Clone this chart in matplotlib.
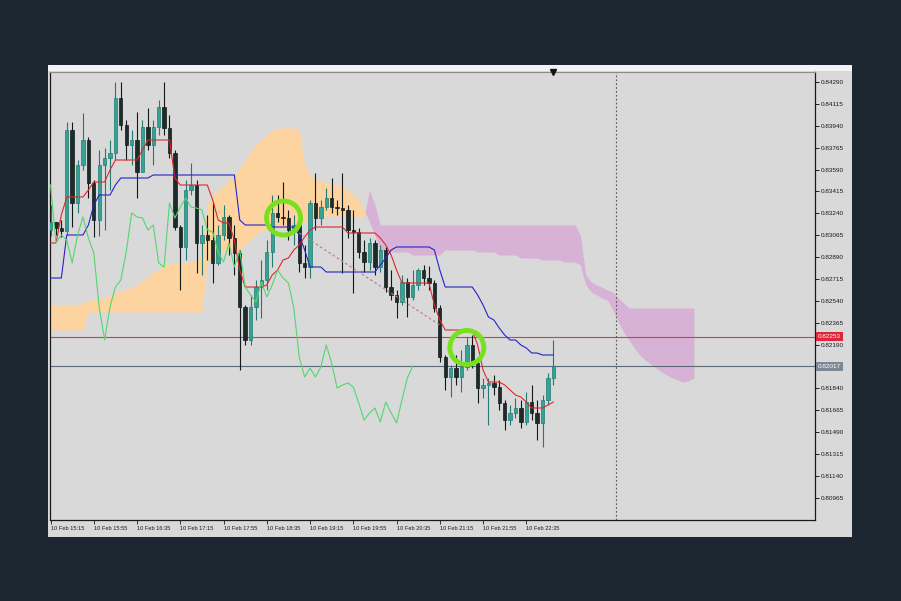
import numpy as np
import matplotlib
matplotlib.use("Agg")
import matplotlib.pyplot as plt
from matplotlib.patches import Rectangle
import matplotlib.transforms as mtrans

# ---- data (5 min bars, 10 Feb 15:15 ...) ----
first_open = 0.83106
closes = [0.83170, 0.83122, 0.83098, 0.83906, 0.83322, 0.83626, 0.83826, 0.83482, 0.83186, 0.83626,
          0.83682, 0.83722, 0.84162, 0.83946, 0.83786, 0.83826, 0.83570, 0.83930, 0.83786, 0.83930,
          0.84090, 0.83922, 0.83722, 0.83130, 0.82970, 0.83426, 0.83466, 0.83002, 0.83066, 0.83026,
          0.82842, 0.83066, 0.83210, 0.83042, 0.82922, 0.82490, 0.82226, 0.82490, 0.82650, 0.82706,
          0.82930, 0.83242, 0.83210, 0.83202, 0.83106, 0.83146, 0.82842, 0.82810, 0.83322, 0.83202,
          0.83290, 0.83362, 0.83290, 0.83282, 0.83266, 0.83106, 0.83090, 0.82930, 0.82850, 0.83002,
          0.82810, 0.82946, 0.82650, 0.82586, 0.82530, 0.82690, 0.82570, 0.82666, 0.82786, 0.82722,
          0.82682, 0.82482, 0.82090, 0.81930, 0.82002, 0.81930, 0.82010, 0.82186, 0.82042, 0.81842,
          0.81866, 0.81882, 0.81850, 0.81722, 0.81586, 0.81642, 0.81682, 0.81570, 0.81730, 0.81642,
          0.81562, 0.81746, 0.81922, 0.82017]
highs = [0.83306, 0.83170, 0.83186, 0.83970, 0.83970, 0.83666, 0.84042, 0.83850, 0.83506, 0.83746,
         0.83762, 0.83826, 0.84290, 0.84290, 0.83986, 0.83906, 0.84050, 0.83986, 0.84082, 0.83986,
         0.84146, 0.84290, 0.84026, 0.83746, 0.83146, 0.83506, 0.83642, 0.83506, 0.83146, 0.83226,
         0.83330, 0.83146, 0.83306, 0.83226, 0.83146, 0.82946, 0.82506, 0.82586, 0.82706, 0.82866,
         0.83026, 0.83386, 0.83386, 0.83490, 0.83266, 0.83226, 0.83106, 0.82986, 0.83346, 0.83562,
         0.83346, 0.83442, 0.83522, 0.83346, 0.83562, 0.83306, 0.83266, 0.83122, 0.83026, 0.83042,
         0.83026, 0.82986, 0.82970, 0.82786, 0.82626, 0.82746, 0.82722, 0.82786, 0.82802, 0.82826,
         0.82818, 0.82706, 0.82506, 0.82106, 0.82026, 0.82106, 0.82146, 0.82250, 0.82266, 0.82082,
         0.81922, 0.81922, 0.81946, 0.81906, 0.81746, 0.81706, 0.81762, 0.81746, 0.81810, 0.81866,
         0.81746, 0.81786, 0.81962, 0.82226]
lows = [0.83058, 0.83066, 0.83050, 0.83066, 0.83130, 0.83242, 0.83586, 0.83362, 0.83050, 0.83058,
        0.83106, 0.83426, 0.83666, 0.83906, 0.83666, 0.83626, 0.83362, 0.83570, 0.83746, 0.83626,
        0.83866, 0.83866, 0.83682, 0.83106, 0.82626, 0.82866, 0.83386, 0.82762, 0.82746, 0.82866,
        0.82682, 0.82826, 0.83026, 0.82906, 0.82746, 0.81986, 0.82186, 0.82186, 0.82386, 0.82402,
        0.82626, 0.82810, 0.83170, 0.83146, 0.83026, 0.82986, 0.82770, 0.82722, 0.82722, 0.83106,
        0.83146, 0.83266, 0.83242, 0.83226, 0.82762, 0.83042, 0.82602, 0.82882, 0.82770, 0.82786,
        0.82746, 0.82770, 0.82610, 0.82546, 0.82402, 0.82506, 0.82410, 0.82546, 0.82626, 0.82666,
        0.82626, 0.82450, 0.82050, 0.81826, 0.81770, 0.81866, 0.81810, 0.81986, 0.82002, 0.81722,
        0.81762, 0.81546, 0.81786, 0.81666, 0.81506, 0.81546, 0.81602, 0.81522, 0.81546, 0.81586,
        0.81426, 0.81370, 0.81706, 0.81866]

tenkan = ([0.83002]*2 + [0.83226] + [0.83370]*4 + [0.83426] + [0.83490]*3 + [0.83586] + [0.83666]*5
          + [0.83746] + [0.83826]*5 + [0.83522] + [0.83466]*6 + [0.83346, 0.83186] + [0.83162]*2
          + [0.83026, 0.82786] + [0.82650]*4
          + [0.82666, 0.82746, 0.82786, 0.82866, 0.82882, 0.82946, 0.82986, 0.83050, 0.83106]
          + [0.83130]*6 + [0.83082]*6 + [0.83042, 0.82986, 0.82906, 0.82786] + [0.82682]*6
          + [0.82506, 0.82386] + [0.82306]*6 + [0.82186, 0.81986] + [0.81890]*3
          + [0.81866, 0.81826, 0.81786, 0.81770, 0.81730] + [0.81682]*3 + [0.81706, 0.81730])
kijun = ([0.82722]*3 + [0.83066]*4 + [0.83146, 0.83306] + [0.83386]*3 + [0.83466] + [0.83522]*6
         + [0.83546]*16 + [0.83186] + [0.83146]*5 + [0.83130]*5 + [0.83066, 0.82946] + [0.82810]*3
         + [0.82770]*10 + [0.82826, 0.82882, 0.82946] + [0.82970]*7 + [0.82946, 0.82786]
         + [0.82650]*6 + [0.82586, 0.82506, 0.82410, 0.82386, 0.82322, 0.82266] + [0.82226]*2
         + [0.82186, 0.82162] + [0.82122]*2 + [0.82106]*3)

# cloud, already shifted 26 bars ahead (bars 0..119)
span_a = ([0.82506]*6 + [0.82522] + [0.82546]*3 + [0.82562, 0.82586, 0.82602] + [0.82626]*2
          + [0.82650, 0.82666, 0.82706, 0.82730, 0.82770, 0.82786, 0.82826] + [0.82842]*2
          + [0.82850]*3 + [0.82866, 0.82906]
          + [0.83306, 0.83386, 0.83426, 0.83466, 0.83506, 0.83546, 0.83602, 0.83666, 0.83730,
             0.83786, 0.83826, 0.83866, 0.83906] + [0.83922]*4 + [0.83906, 0.83626, 0.83546]
          + [0.83506]*2 + [0.83482]*2 + [0.83466]*2
          + [0.83426, 0.83386, 0.83346, 0.83266, 0.83170, 0.83066, 0.82946]
          + [0.82930]*5 + [0.82906]*6 + [0.82946]*6 + [0.82930]*4 + [0.82906]*4 + [0.82882]*4
          + [0.82866]*4 + [0.82850]*3
          + [0.82826, 0.82666, 0.82610, 0.82586, 0.82562, 0.82546, 0.82466, 0.82370, 0.82290,
             0.82226, 0.82162, 0.82106, 0.82066, 0.82034, 0.82002, 0.81970, 0.81946, 0.81922,
             0.81906, 0.81890, 0.81898, 0.81922])
span_b = ([0.82306]*7 + [0.82450]*22 + [0.82850, 0.82882, 0.82906, 0.82930] + [0.82946]*3
          + [0.82986, 0.83026, 0.83066] + [0.83106]*2 + [0.83122]*3 + [0.83138]*2
          + [0.83146, 0.83170, 0.83202] + [0.83210]*2 + [0.83218]*6 + [0.83210]*2
          + [0.83426, 0.83306] + [0.83146]*37
          + [0.83066, 0.82746, 0.82690, 0.82666, 0.82650, 0.82626, 0.82610, 0.82562, 0.82522]
          + [0.82482]*13)

tick_labels = ["10 Feb 15:15", "10 Feb 15:55", "10 Feb 16:35", "10 Feb 17:15", "10 Feb 17:55",
               "10 Feb 18:35", "10 Feb 19:15", "10 Feb 19:55", "10 Feb 20:35", "10 Feb 21:15",
               "10 Feb 21:55", "10 Feb 22:35"]
bars_per_label = 8
price_levels = [0.84290, 0.84115, 0.83940, 0.83765, 0.83590, 0.83415, 0.83240, 0.83065, 0.82890,
                0.82715, 0.82540, 0.82365, 0.82190, 0.81840, 0.81665, 0.81490, 0.81315,
                0.81140, 0.80965]
red_level = 0.82253
bid_level = 0.82017
trend_bars = [46, 72]
trend_prices = [0.83082, 0.82346]
circle_bars = [43.1, 77.0]
circle_prices = [0.83202, 0.82166]
separator_bar = 104.6
shift = 26

plt.rcParams['font.family'] = ['Liberation Sans', 'DejaVu Sans']

fig = plt.figure(figsize=(9.01, 6.01), dpi=100)
fig.patch.set_facecolor('#1c2732')
# chart window
fig.add_artist(Rectangle((48/901, 64/601), 804/901, 472/601, transform=fig.transFigure,
                         facecolor='#d9d9d9', edgecolor='none', zorder=0))
fig.add_artist(Rectangle((48/901, 530/601), 804/901, 6/601, transform=fig.transFigure,
                         facecolor='#f3f3f3', edgecolor='none', zorder=0))

ax = fig.add_axes([50/901, 81/601, 765/901, 448/601])
ax.set_facecolor('#d9d9d9')

n = len(closes)
idx = np.arange(n)
closes = np.array(closes)
opens = np.concatenate([[first_open], closes[:-1]])
highs = np.maximum(np.array(highs), np.maximum(opens, closes))
lows = np.minimum(np.array(lows), np.minimum(opens, closes))
bull = closes >= opens

# cloud
cx = np.arange(len(span_a))
sa = np.array(span_a)
sb = np.array(span_b)
ax.fill_between(cx, sa, sb, where=sa >= sb, interpolate=True, color='#fdd3a0', lw=0, zorder=1)
ax.fill_between(cx, sa, sb, where=sa < sb, interpolate=True, color='#d8b2d6', lw=0, zorder=1)

ax.axhline(red_level, color='#e23a3a', lw=0.8, zorder=2)
ax.axhline(bid_level, color='#5a6878', lw=0.8, zorder=2)
ax.axvline(separator_bar, color='#555555', lw=0.8, ls=(0, (1.5, 2)), zorder=2)

# candles
body_col = np.where(bull, '#35a297', '#1d2b2b')
edge_col = np.where(bull, '#247a72', '#111a1a')
ax.vlines(idx, lows, highs, colors=edge_col, lw=0.8, zorder=3)
body_h = np.maximum(np.abs(closes - opens), 0.00003)
ax.bar(idx, body_h, bottom=np.minimum(opens, closes), width=0.62, color=body_col,
       edgecolor=edge_col, linewidth=0.5, zorder=3)

# ichimoku lines
ax.plot(idx, tenkan, color='#e0262a', lw=0.8, zorder=4)
ax.plot(idx, kijun, color='#2424c8', lw=0.8, zorder=4)
ax.plot(idx[shift:] - shift, closes[shift:], color='#52d76e', lw=0.8, zorder=4)
ax.plot(trend_bars, trend_prices, color='#c07f7f', lw=0.9, ls=(0, (2, 2)), zorder=4)

ax.scatter(circle_bars, circle_prices, s=600, facecolors='none', edgecolors='#79e01e',
           linewidths=3.5, zorder=5)

# shift marker at the last bar
ax.plot([n - 1], [1.0], marker='v', color='#111111', markersize=4,
        transform=mtrans.blended_transform_factory(ax.transData, ax.transAxes),
        clip_on=False, zorder=6)

ax.set_xlim(-0.1, 141.4)
ax.set_ylim(0.80786, 0.84370)

ax.set_xticks(np.arange(len(tick_labels)) * bars_per_label)
ax.set_xticklabels(tick_labels, ha='left', fontsize=4.1, color='#1a1a1a')
ax.tick_params(axis='x', length=3, width=0.6, pad=1.5, colors='#1a1a1a')

ax.yaxis.tick_right()
ax.set_yticks(price_levels)
ax.set_yticklabels(["%.5f" % p for p in price_levels], fontsize=4.6, color='#1a1a1a')
ax.tick_params(axis='y', length=3, width=0.6, pad=1)

yt = mtrans.blended_transform_factory(ax.transAxes, ax.transData)
ax.text(1.004, red_level, "%.5f" % red_level, transform=yt, fontsize=4.6, color='white',
        va='center', ha='left', clip_on=False, zorder=7,
        bbox=dict(boxstyle='square,pad=0.3', fc='#e0243a', ec='none'))
ax.text(1.004, bid_level, "%.5f" % bid_level, transform=yt, fontsize=4.6, color='white',
        va='center', ha='left', clip_on=False, zorder=7,
        bbox=dict(boxstyle='square,pad=0.3', fc='#7b8896', ec='none'))

for side in ['left', 'bottom', 'right']:
    ax.spines[side].set_color('#1a1a1a')
    ax.spines[side].set_linewidth(0.9)
ax.spines['top'].set_color('#8a8a8a')
ax.spines['top'].set_linewidth(0.8)

fig.savefig("out.png", dpi=100, facecolor=fig.get_facecolor())
